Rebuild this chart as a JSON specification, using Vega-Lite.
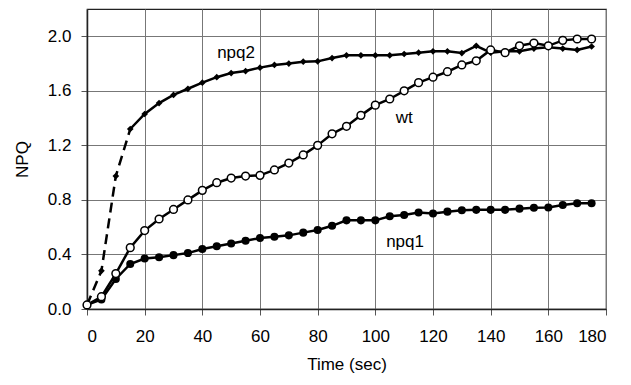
{
  "$schema": "https://vega.github.io/schema/vega-lite/v6.json",
  "autosize": {"type": "none"},
  "width": 519,
  "height": 300,
  "padding": {"left": 87, "top": 9, "right": 25, "bottom": 76},
  "background": "white",
  "config": {
    "font": "Liberation Sans",
    "view": {"stroke": "#222", "strokeWidth": 1.2},
    "axis": {
      "labelFont": "Liberation Sans", "titleFont": "Liberation Sans",
      "labelFontSize": 17, "titleFontSize": 17, "titleFontWeight": "normal",
      "labelColor": "black", "titleColor": "black",
      "domainColor": "#222", "domainWidth": 1.5,
      "tickColor": "#555", "tickSize": 6,
      "gridColor": "#777", "gridWidth": 1, "gridOpacity": 1
    }
  },
  "datasets": {
    "series": [
      {"s":"npq1","t":0,"v":0.03},{"s":"npq1","t":5,"v":0.07},{"s":"npq1","t":10,"v":0.22},{"s":"npq1","t":15,"v":0.33},
      {"s":"npq1","t":20,"v":0.37},{"s":"npq1","t":25,"v":0.38},{"s":"npq1","t":30,"v":0.395},{"s":"npq1","t":35,"v":0.41},
      {"s":"npq1","t":40,"v":0.44},{"s":"npq1","t":45,"v":0.46},{"s":"npq1","t":50,"v":0.48},{"s":"npq1","t":55,"v":0.5},
      {"s":"npq1","t":60,"v":0.52},{"s":"npq1","t":65,"v":0.53},{"s":"npq1","t":70,"v":0.54},{"s":"npq1","t":75,"v":0.56},
      {"s":"npq1","t":80,"v":0.58},{"s":"npq1","t":85,"v":0.61},{"s":"npq1","t":90,"v":0.65},{"s":"npq1","t":95,"v":0.65},
      {"s":"npq1","t":100,"v":0.65},{"s":"npq1","t":105,"v":0.68},{"s":"npq1","t":110,"v":0.69},{"s":"npq1","t":115,"v":0.707},
      {"s":"npq1","t":120,"v":0.7},{"s":"npq1","t":125,"v":0.714},{"s":"npq1","t":130,"v":0.724},{"s":"npq1","t":135,"v":0.727},
      {"s":"npq1","t":140,"v":0.727},{"s":"npq1","t":145,"v":0.727},{"s":"npq1","t":150,"v":0.736},{"s":"npq1","t":155,"v":0.743},
      {"s":"npq1","t":160,"v":0.745},{"s":"npq1","t":165,"v":0.763},{"s":"npq1","t":170,"v":0.775},{"s":"npq1","t":175,"v":0.775},

      {"s":"wt","t":0,"v":0.03},{"s":"wt","t":5,"v":0.09},{"s":"wt","t":10,"v":0.26},{"s":"wt","t":15,"v":0.45},
      {"s":"wt","t":20,"v":0.575},{"s":"wt","t":25,"v":0.66},{"s":"wt","t":30,"v":0.73},{"s":"wt","t":35,"v":0.8},
      {"s":"wt","t":40,"v":0.87},{"s":"wt","t":45,"v":0.926},{"s":"wt","t":50,"v":0.96},{"s":"wt","t":55,"v":0.975},
      {"s":"wt","t":60,"v":0.98},{"s":"wt","t":65,"v":1.02},{"s":"wt","t":70,"v":1.07},{"s":"wt","t":75,"v":1.13},
      {"s":"wt","t":80,"v":1.2},{"s":"wt","t":85,"v":1.285},{"s":"wt","t":90,"v":1.34},{"s":"wt","t":95,"v":1.42},
      {"s":"wt","t":100,"v":1.495},{"s":"wt","t":105,"v":1.54},{"s":"wt","t":110,"v":1.6},{"s":"wt","t":115,"v":1.66},
      {"s":"wt","t":120,"v":1.7},{"s":"wt","t":125,"v":1.74},{"s":"wt","t":130,"v":1.79},{"s":"wt","t":135,"v":1.82},
      {"s":"wt","t":140,"v":1.9},{"s":"wt","t":145,"v":1.88},{"s":"wt","t":150,"v":1.93},{"s":"wt","t":155,"v":1.95},
      {"s":"wt","t":160,"v":1.93},{"s":"wt","t":165,"v":1.97},{"s":"wt","t":170,"v":1.98},{"s":"wt","t":175,"v":1.98},

      {"s":"npq2","t":0,"v":0.03},{"s":"npq2","t":5,"v":0.28},{"s":"npq2","t":10,"v":0.975},{"s":"npq2","t":15,"v":1.32},
      {"s":"npq2","t":20,"v":1.43},{"s":"npq2","t":25,"v":1.51},{"s":"npq2","t":30,"v":1.57},{"s":"npq2","t":35,"v":1.615},
      {"s":"npq2","t":40,"v":1.66},{"s":"npq2","t":45,"v":1.7},{"s":"npq2","t":50,"v":1.73},{"s":"npq2","t":55,"v":1.745},
      {"s":"npq2","t":60,"v":1.77},{"s":"npq2","t":65,"v":1.79},{"s":"npq2","t":70,"v":1.8},{"s":"npq2","t":75,"v":1.814},
      {"s":"npq2","t":80,"v":1.816},{"s":"npq2","t":85,"v":1.84},{"s":"npq2","t":90,"v":1.86},{"s":"npq2","t":95,"v":1.86},
      {"s":"npq2","t":100,"v":1.86},{"s":"npq2","t":105,"v":1.86},{"s":"npq2","t":110,"v":1.87},{"s":"npq2","t":115,"v":1.88},
      {"s":"npq2","t":120,"v":1.89},{"s":"npq2","t":125,"v":1.89},{"s":"npq2","t":130,"v":1.877},{"s":"npq2","t":135,"v":1.93},
      {"s":"npq2","t":140,"v":1.88},{"s":"npq2","t":145,"v":1.89},{"s":"npq2","t":150,"v":1.89},{"s":"npq2","t":155,"v":1.91},
      {"s":"npq2","t":160,"v":1.92},{"s":"npq2","t":165,"v":1.91},{"s":"npq2","t":170,"v":1.9},{"s":"npq2","t":175,"v":1.925}
    ],
    "labels": [
      {"label":"npq2","t":51.7,"v":1.875},
      {"label":"wt","t":110,"v":1.4},
      {"label":"npq1","t":110.3,"v":0.495}
    ]
  },
  "encoding": {
    "x": {"field": "t", "type": "quantitative",
      "scale": {"domain": [0, 180], "nice": false},
      "axis": {"values": [0,20,40,60,80,100,120,140,160,180], "title": "Time (sec)", "labelPadding": 13, "titlePadding": 12, "grid": true}},
    "y": {"field": "v", "type": "quantitative",
      "scale": {"domain": [0, 2.2], "nice": false},
      "axis": {"values": [0,0.4,0.8,1.2,1.6,2.0], "format": ".1f", "title": "NPQ", "labelPadding": 10, "titlePadding": 16, "grid": true}}
  },
  "layer": [
    {
      "data": {"name": "series"},
      "transform": [{"filter": "datum.s === 'npq1'"}],
      "mark": {"type": "line", "color": "black", "strokeWidth": 2.5}
    },
    {
      "data": {"name": "series"},
      "transform": [{"filter": "datum.s === 'npq1'"}],
      "mark": {"type": "point", "shape": "circle", "filled": true, "color": "black", "size": 65, "opacity": 1}
    },
    {
      "data": {"name": "series"},
      "transform": [{"filter": "datum.s === 'npq2' && datum.t <= 15"}],
      "mark": {"type": "line", "color": "black", "strokeWidth": 2.5, "strokeDash": [10, 6]}
    },
    {
      "data": {"name": "series"},
      "transform": [{"filter": "datum.s === 'npq2' && datum.t >= 15"}],
      "mark": {"type": "line", "color": "black", "strokeWidth": 2.5}
    },
    {
      "data": {"name": "series"},
      "transform": [{"filter": "datum.s === 'npq2'"}],
      "mark": {"type": "point", "shape": "diamond", "filled": true, "color": "black", "size": 45, "opacity": 1}
    },
    {
      "data": {"name": "series"},
      "transform": [{"filter": "datum.s === 'wt'"}],
      "mark": {"type": "line", "color": "black", "strokeWidth": 2.5}
    },
    {
      "data": {"name": "series"},
      "transform": [{"filter": "datum.s === 'wt'"}],
      "mark": {"type": "point", "shape": "circle", "filled": true, "fill": "white", "stroke": "black", "strokeWidth": 1.5, "size": 60, "opacity": 1}
    },
    {
      "data": {"name": "labels"},
      "mark": {"type": "text", "font": "Liberation Sans", "fontSize": 17, "color": "black", "align": "center", "baseline": "middle"},
      "encoding": {"text": {"field": "label"}}
    }
  ]
}
